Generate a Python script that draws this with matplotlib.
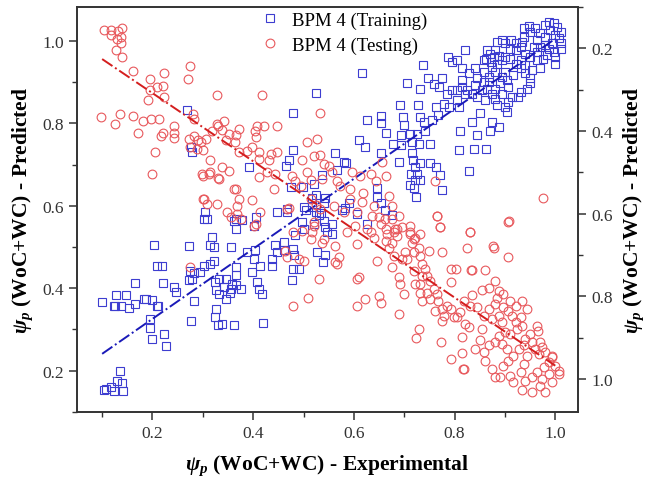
import matplotlib
matplotlib.use('Agg')
import matplotlib.pyplot as plt
from matplotlib.ticker import MultipleLocator

plt.rcParams['font.family'] = ['Liberation Serif', 'DejaVu Serif']
plt.rcParams['mathtext.fontset'] = 'custom'
plt.rcParams['mathtext.it'] = 'Liberation Serif:italic:bold'
plt.rcParams['mathtext.rm'] = 'Liberation Serif:bold'

# training set: experimental vs predicted (left axis)
train_x = [
    0.136, 0.129, 0.140, 0.117, 0.107, 0.123, 0.142, 0.103,
    0.100, 0.127, 0.148, 0.125, 0.138, 0.153, 0.166, 0.165, 0.184, 0.200, 0.209, 0.196, 0.195, 0.200,
    0.222, 0.226, 0.203, 0.209, 0.219, 0.220, 0.242, 0.246,
    0.272, 0.275, 0.279, 0.283, 0.277, 0.295, 0.303, 0.314, 0.322, 0.314, 0.322, 0.325, 0.327, 0.332,
    0.342, 0.354, 0.365, 0.375, 0.355, 0.345, 0.327, 0.325, 0.330, 0.361, 0.398, 0.408, 0.411, 0.418,
    0.420, 0.401, 0.404, 0.365, 0.388, 0.438, 0.438, 0.444, 0.477, 0.490, 0.461, 0.480, 0.527, 0.539,
    0.543, 0.283, 0.273, 0.210, 0.187, 0.124,
    0.308, 0.318, 0.365, 0.378, 0.365, 0.405, 0.401, 0.414, 0.366, 0.358, 0.345, 0.332, 0.355, 0.338,
    0.448, 0.461, 0.467, 0.484, 0.481, 0.479, 0.497, 0.500, 0.504, 0.520, 0.530, 0.540, 0.543, 0.534,
    0.547,
    0.269, 0.279, 0.276, 0.525, 0.480, 0.479, 0.471, 0.465, 0.391, 0.520, 0.498, 0.537, 0.524, 0.500,
    0.516, 0.540, 0.543, 0.517, 0.476, 0.305, 0.302, 0.361, 0.448, 0.467, 0.524,
    0.616, 0.737, 0.786, 0.706, 0.731, 0.747, 0.760, 0.775, 0.770, 0.784, 0.691, 0.727, 0.764, 0.778,
    0.654, 0.653, 0.626, 0.698, 0.700, 0.732, 0.740, 0.755, 0.768, 0.664, 0.694, 0.711, 0.725, 0.741,
    0.678, 0.694, 0.715, 0.729, 0.752, 0.610, 0.623, 0.563, 0.580, 0.585, 0.654, 0.689, 0.715, 0.717,
    0.722, 0.731, 0.713, 0.725, 0.722, 0.712, 0.731, 0.719, 0.751, 0.764, 0.775, 0.724, 0.772, 0.567,
    0.645, 0.646, 0.653, 0.583, 0.590, 0.795, 0.795, 0.788,
    0.557, 0.557, 0.576, 0.606, 0.626, 0.662, 0.676,
    0.987, 0.997, 0.979, 1.003, 1.012, 0.990, 1.000, 1.007, 1.012, 1.012, 0.993, 0.980, 0.970, 0.960,
    0.948, 0.937, 0.937, 0.950, 0.964, 0.970, 0.979, 0.987, 0.997, 1.000, 0.999, 0.983, 0.975, 0.964,
    0.950, 0.940, 0.931, 0.921, 0.913, 0.901, 0.894, 0.884, 0.881, 0.871, 0.864, 0.862, 0.873, 0.884,
    0.894, 0.901, 0.911, 0.921, 0.931, 0.940, 0.950, 0.950, 0.944, 0.931, 0.926, 0.914, 0.907, 0.901,
    0.904, 0.884, 0.881, 0.874, 0.864, 0.854, 0.844, 0.835, 0.825, 0.815, 0.815, 0.828, 0.815, 0.841,
    0.845, 0.858, 0.868, 0.881, 0.894, 0.904, 0.907, 0.894, 0.868, 0.874, 0.858, 0.821, 0.805, 0.805,
    0.805, 0.808, 0.821, 0.841, 0.851, 0.835, 0.874, 0.888, 0.871, 0.845, 0.811, 0.808, 0.838, 0.862,
    0.828, 0.858, 0.878, 0.889, 0.911, 0.921, 0.934, 0.957, 0.964, 0.970, 0.954, 0.940, 0.931, 0.917,
    0.901, 0.891, 0.881, 0.861,
]
train_y = [
    0.200, 0.176, 0.171, 0.160, 0.156, 0.152, 0.150, 0.154,
    0.367, 0.384, 0.384, 0.358, 0.358, 0.352, 0.362, 0.413, 0.375, 0.372, 0.358, 0.326, 0.303, 0.276,
    0.290, 0.261, 0.504, 0.454, 0.454, 0.413, 0.403, 0.391,
    0.502, 0.441, 0.423, 0.370, 0.320, 0.439, 0.455, 0.459, 0.467, 0.505, 0.500, 0.415, 0.395, 0.387,
    0.403, 0.389, 0.407, 0.399, 0.500, 0.375, 0.350, 0.330, 0.311, 0.311, 0.439, 0.415, 0.399, 0.387,
    0.316, 0.472, 0.492, 0.451, 0.488, 0.472, 0.455, 0.504, 0.419, 0.447, 0.492, 0.496, 0.488, 0.463,
    0.480, 0.438, 0.421, 0.357, 0.375, 0.357,
    0.569, 0.524, 0.569, 0.565, 0.544, 0.573, 0.552, 0.454, 0.431, 0.411, 0.423, 0.423, 0.399, 0.314,
    0.489, 0.512, 0.585, 0.528, 0.480, 0.446, 0.560, 0.544, 0.589, 0.556, 0.577, 0.564, 0.548, 0.583,
    0.536,
    0.833, 0.731, 0.743, 0.874, 0.824, 0.736, 0.711, 0.696, 0.695, 0.654, 0.646, 0.674, 0.626, 0.598,
    0.598, 0.606, 0.618, 0.618, 0.646, 0.585, 0.568, 0.564, 0.585, 0.593, 0.585,
    0.922, 0.941, 0.961, 0.898, 0.882, 0.909, 0.895, 0.909, 0.887, 0.871, 0.844, 0.844, 0.840, 0.848,
    0.817, 0.801, 0.808, 0.816, 0.796, 0.816, 0.804, 0.808, 0.820, 0.777, 0.771, 0.775, 0.775, 0.782,
    0.751, 0.747, 0.755, 0.750, 0.751, 0.759, 0.743, 0.727, 0.707, 0.703, 0.727, 0.707, 0.727, 0.711,
    0.695, 0.703, 0.678, 0.678, 0.662, 0.650, 0.662, 0.642, 0.703, 0.695, 0.638, 0.622, 0.674, 0.687,
    0.642, 0.622, 0.606, 0.594, 0.606, 0.949, 0.880, 0.840,
    0.556, 0.532, 0.589, 0.581, 0.556, 0.589, 0.577,
    1.046, 1.044, 1.038, 1.034, 1.022, 1.027, 1.014, 1.006, 0.994, 0.981, 0.994, 1.010, 1.018, 1.030,
    1.036, 1.030, 1.010, 1.022, 1.002, 0.985, 0.989, 0.981, 0.973, 0.961, 0.945, 0.965, 0.957, 0.973,
    0.961, 0.969, 0.985, 0.977, 1.002, 0.994, 1.002, 0.998, 0.977, 0.969, 0.977, 0.957, 0.949, 0.945,
    0.953, 0.961, 0.957, 0.945, 0.933, 0.921, 0.909, 0.897, 0.884, 0.876, 0.864, 0.864, 0.852, 0.840,
    0.828, 0.844, 0.860, 0.872, 0.884, 0.880, 0.864, 0.872, 0.880, 0.888, 0.905, 0.921, 0.933, 0.933,
    0.909, 0.901, 0.913, 0.925, 0.913, 0.905, 0.888, 0.872, 0.901, 0.937, 0.925, 0.977, 0.953, 0.880,
    0.856, 0.840, 0.872, 0.892, 0.824, 0.804, 0.804, 0.791, 0.782, 0.771, 0.782, 0.735, 0.737, 0.737,
    0.685, 0.953, 0.961, 0.963, 0.981, 0.994, 0.998, 0.985, 0.953, 0.933, 0.929, 0.941, 0.953, 0.917,
    0.925, 0.897, 0.884, 0.856,
]

# testing set: experimental vs predicted (right axis, reversed)
test_x = [
    0.103, 0.117, 0.117, 0.131, 0.139, 0.137, 0.129, 0.138, 0.127, 0.139, 0.162, 0.195, 0.222, 0.209,
    0.220, 0.195, 0.222, 0.192, 0.275, 0.271, 0.097, 0.125, 0.135, 0.162, 0.172, 0.182, 0.197, 0.212,
    0.243, 0.242, 0.243, 0.220, 0.217, 0.205, 0.200, 0.281, 0.283, 0.283, 0.273, 0.291, 0.297, 0.275,
    0.288, 0.301, 0.299, 0.301,
    0.328, 0.417, 0.533, 0.342, 0.330, 0.319, 0.338, 0.351, 0.366, 0.371, 0.408, 0.404, 0.405, 0.448,
    0.307, 0.363, 0.345, 0.398, 0.411, 0.436, 0.448, 0.431, 0.315, 0.351, 0.338, 0.312, 0.330, 0.412,
    0.443, 0.507, 0.527, 0.497, 0.533, 0.540, 0.365, 0.371, 0.328, 0.398, 0.471, 0.484, 0.477, 0.514,
    0.537, 0.524,
    0.421, 0.328, 0.388, 0.371, 0.332, 0.315, 0.301, 0.302, 0.309, 0.348, 0.355, 0.368, 0.375, 0.361,
    0.414, 0.401, 0.411, 0.428, 0.441, 0.467, 0.480, 0.514, 0.520, 0.533, 0.514, 0.494, 0.550, 0.520,
    0.507,
    0.368, 0.405, 0.464, 0.467, 0.497, 0.500, 0.517, 0.520, 0.537, 0.530, 0.509, 0.479, 0.491, 0.540,
    0.275,
    0.975, 0.762, 0.765, 0.772, 0.831, 0.909, 0.876, 0.557, 0.567, 0.596, 0.613, 0.633, 0.656, 0.663,
    0.643, 0.573, 0.593, 0.619, 0.593, 0.616, 0.639, 0.669, 0.676, 0.689, 0.676, 0.649, 0.636, 0.606,
    0.580, 0.560, 0.686, 0.712, 0.719, 0.679, 0.663, 0.626, 0.603, 0.639, 0.663,
    0.563, 0.567, 0.570, 0.586, 0.606, 0.610, 0.623, 0.606, 0.649, 0.653, 0.646, 0.633, 0.653, 0.662,
    0.666, 0.676, 0.669, 0.679, 0.676, 0.689, 0.692, 0.699, 0.689, 0.682, 0.686, 0.696, 0.696, 0.706,
    0.712, 0.715, 0.719, 0.722, 0.732, 0.729, 0.732, 0.735, 0.719, 0.722, 0.732, 0.735, 0.742, 0.745,
    0.752, 0.749, 0.732, 0.735, 0.745, 0.752, 0.759, 0.765, 0.768, 0.762, 0.775, 0.778, 0.775, 0.785,
    0.792, 0.798, 0.765, 0.772, 0.775, 0.792, 0.793, 0.792, 0.774, 0.729, 0.724, 0.702, 0.712,
    0.606, 0.817, 0.835, 0.563,
    0.907, 0.831, 0.825, 0.878, 0.907, 0.802, 0.833, 0.860, 0.881, 0.868, 0.854, 0.888, 0.835, 0.818,
    0.831, 0.845, 0.811, 0.805, 0.821, 0.828, 0.815, 0.815, 0.818, 0.841, 0.851, 0.854, 0.858, 0.868,
    0.874, 0.881, 0.897, 0.888, 0.894, 0.907, 0.914, 0.921, 0.931, 0.934, 0.924, 0.911, 0.901, 0.888,
    0.881, 0.868, 0.858, 0.861, 0.874, 0.881, 0.891, 0.911, 0.917, 0.934, 0.954, 0.980, 0.993, 1.007,
    1.000, 0.993, 0.987, 0.977, 0.964, 0.954, 0.940, 0.931, 0.937, 0.944, 0.960, 0.970, 0.967, 0.980,
    0.993, 0.954, 0.940, 0.937, 0.927, 0.917, 0.907, 0.897, 0.904, 0.894, 0.964, 0.966, 0.974, 0.950,
    1.007, 0.974, 0.987, 0.970, 0.897, 0.911, 0.921, 0.934, 0.944, 0.884,
]
test_y = [
    0.156, 0.156, 0.167, 0.157, 0.151, 0.172, 0.178, 0.188, 0.204, 0.220, 0.256, 0.274, 0.260, 0.294,
    0.292, 0.301, 0.318, 0.326, 0.242, 0.274, 0.365, 0.383, 0.359, 0.363, 0.404, 0.375, 0.372, 0.372,
    0.389, 0.405, 0.418, 0.405, 0.413, 0.452, 0.504, 0.359, 0.371, 0.411, 0.419, 0.422, 0.427, 0.438,
    0.443, 0.447, 0.504, 0.564,
    0.312, 0.314, 0.357, 0.375, 0.387, 0.401, 0.397, 0.407, 0.409, 0.395, 0.387, 0.399, 0.415, 0.389,
    0.419, 0.427, 0.423, 0.439, 0.451, 0.455, 0.451, 0.470, 0.471, 0.496, 0.488, 0.504, 0.513, 0.512,
    0.504, 0.427, 0.419, 0.470, 0.459, 0.480, 0.540, 0.564, 0.576, 0.568, 0.586, 0.520, 0.508, 0.518,
    0.516, 0.580,
    0.388, 0.384, 0.448, 0.452, 0.517, 0.500, 0.509, 0.565, 0.577, 0.597, 0.609, 0.581, 0.613, 0.541,
    0.597, 0.629, 0.468, 0.500, 0.541, 0.589, 0.645, 0.662, 0.629, 0.589, 0.565, 0.533, 0.484, 0.460,
    0.500,
    0.601, 0.625, 0.690, 0.706, 0.641, 0.714, 0.645, 0.621, 0.670, 0.758, 0.803, 0.823, 0.710, 0.662,
    0.730,
    0.563, 0.521, 0.605, 0.633, 0.645, 0.617, 0.678, 0.500, 0.521, 0.500, 0.509, 0.505, 0.476, 0.509,
    0.521, 0.533, 0.541, 0.549, 0.565, 0.573, 0.581, 0.557, 0.581, 0.605, 0.613, 0.609, 0.605, 0.597,
    0.597, 0.581, 0.637, 0.645, 0.662, 0.645, 0.637, 0.637, 0.629, 0.658, 0.666,
    0.678, 0.722, 0.706, 0.645, 0.674, 0.754, 0.807, 0.824, 0.799, 0.816, 0.714, 0.645, 0.625, 0.613,
    0.650, 0.670, 0.682, 0.702, 0.730, 0.754, 0.770, 0.795, 0.843, 0.637, 0.654, 0.633, 0.710, 0.710,
    0.650, 0.670, 0.694, 0.658, 0.650, 0.682, 0.702, 0.722, 0.738, 0.770, 0.770, 0.750, 0.734, 0.750,
    0.762, 0.690, 0.791, 0.811, 0.791, 0.807, 0.782, 0.795, 0.811, 0.835, 0.831, 0.847, 0.859, 0.823,
    0.831, 0.851, 0.605, 0.633, 0.692, 0.734, 0.766, 0.952, 0.910, 0.879, 0.902, 0.694, 0.629,
    0.757, 0.976, 0.736, 0.718,
    0.620, 0.645, 0.684, 0.682, 0.704, 0.733, 0.737, 0.737, 0.762, 0.781, 0.784, 0.787, 0.797, 0.811,
    0.823, 0.827, 0.839, 0.851, 0.867, 0.875, 0.899, 0.937, 0.976, 0.928, 0.907, 0.879, 0.847, 0.831,
    0.855, 0.819, 0.827, 0.847, 0.863, 0.835, 0.847, 0.863, 0.851, 0.871, 0.879, 0.891, 0.887, 0.895,
    0.911, 0.919, 0.936, 0.956, 0.976, 0.996, 0.996, 0.992, 1.008, 1.028, 1.031, 1.031, 1.008, 0.988,
    0.968, 0.948, 0.960, 0.972, 0.984, 0.996, 1.004, 0.984, 0.964, 0.944, 0.928, 0.911, 0.940, 0.936,
    0.944, 0.911, 0.903, 0.919, 0.928, 0.944, 0.956, 0.968, 0.928, 0.915, 0.871, 0.883, 0.923, 0.891,
    0.980, 1.000, 0.988, 1.016, 0.795, 0.811, 0.823, 0.811, 0.831, 0.803,
]

# fitted lines (end points)
fit_x = [0.1, 1.0]
train_fit = [0.241, 1.005]
test_fit = [0.226, 0.968]

blue = '#3d3dd0'
red = '#e8585c'

fig = plt.figure(figsize=(6.54, 4.85), dpi=100)
ax = fig.add_axes([0.1177, 0.1485, 0.766, 0.835])
ax2 = ax.twinx()

h1, = ax.plot(train_x, train_y, 's', ms=5.2, mfc='none', mec=blue, mew=0.8,
              label='BPM 4 (Training)', zorder=3)
ax.plot(fit_x, train_fit, '-.', color='#1a1ab8', lw=1.4, zorder=4)
h2, = ax2.plot(test_x, test_y, 'o', ms=6.3, mfc='none', mec=red, mew=0.8,
               label='BPM 4 (Testing)', zorder=3)
ax2.plot(fit_x, test_fit, '-.', color='#d41e1e', lw=1.4, zorder=4)

ax.set_xlim(0.05, 1.045)
ax.set_ylim(0.1, 1.082)
ax2.set_ylim(1.08, 0.1)

for a in (ax, ax2):
    a.yaxis.set_major_locator(MultipleLocator(0.2))
    a.yaxis.set_minor_locator(MultipleLocator(0.1))
    a.tick_params(which='major', direction='out', length=6, width=1.1, labelsize=12.5, colors='#333333')
    a.tick_params(which='minor', direction='out', length=3.5, width=1.0, colors='#333333')
    for s in a.spines.values():
        s.set_linewidth(1.2)
        s.set_color('#333333')
ax.xaxis.set_major_locator(MultipleLocator(0.2))
ax.xaxis.set_minor_locator(MultipleLocator(0.1))
ax.yaxis.set_major_formatter(plt.FormatStrFormatter('%.1f'))
ax2.yaxis.set_major_formatter(plt.FormatStrFormatter('%.1f'))
ax.xaxis.set_major_formatter(plt.FormatStrFormatter('%.1f'))

ax.set_xlabel(r'$\psi_p$ (WoC+WC) - Experimental', fontsize=15.5, fontweight='bold', labelpad=8)
ax.set_ylabel(r'$\psi_p$ (WoC+WC) - Predicted', fontsize=15.5, fontweight='bold', labelpad=5)
ax2.set_ylabel(r'$\psi_p$ (WoC+WC) - Predicted', fontsize=15.5, fontweight='bold', labelpad=6)

ax2.legend(handles=[h1, h2], loc='upper left', bbox_to_anchor=(0.325, 1.03), frameon=False,
           fontsize=13.5, handletextpad=0.5, labelspacing=0.4, handlelength=1.4)

fig.savefig('out.png', dpi=100)
